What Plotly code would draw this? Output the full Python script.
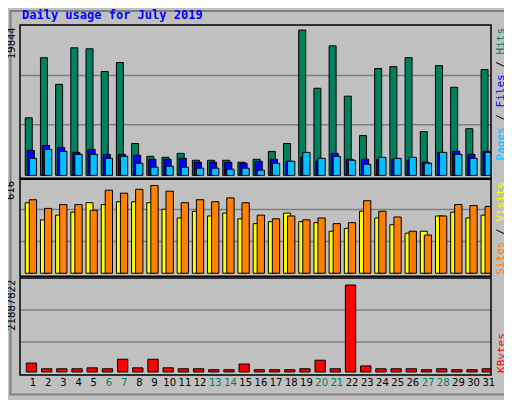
import plotly.graph_objects as go

days = list(range(1, 32))
hits = [7858, 16074, 12437, 17421, 17287, 14188, 15401, 4355, 2604, 2470, 3008, 2065, 2065, 2065, 1796, 2200,
        3278, 4355, 19844, 11899, 17691, 10821, 5433, 14593, 14862, 16074, 5972, 14997, 12033, 6376, 14458]
files = [3412, 4086, 3817, 3143, 3547, 2874, 2874, 2739, 2200, 2200, 2335, 1796, 1796, 1796, 1661, 1931,
         2200, 1931, 2470, 1931, 3008, 2200, 2200, 2200, 2200, 2065, 1796, 3143, 3278, 2874, 3278]
pages = [2335, 3547, 3278, 2874, 2874, 2335, 2604, 1661, 1123, 1257, 1123, 988, 988, 853, 988, 718,
         1661, 1931, 3143, 2335, 2604, 2065, 1527, 2470, 2335, 2470, 1661, 3143, 2874, 2335, 3143]
sites = [495, 375, 408, 429, 495, 482, 502, 502, 495, 449, 388, 435, 402, 422, 382, 348,
         362, 422, 362, 355, 295, 315, 435, 388, 341, 281, 295, 402, 429, 388, 408]
visits = [516, 455, 482, 482, 442, 583, 562, 589, 616, 576, 495, 516, 502, 529, 495, 408,
          382, 402, 375, 388, 348, 355, 509, 435, 395, 295, 268, 402, 482, 475, 469]
kbytes = [2236724, 798830, 798830, 798830, 1038479, 798830, 3195320, 1038479, 3195320, 1038479, 798830,
          798830, 559181, 559181, 1997075, 559181, 559181, 559181, 798830, 2955671, 798830, 21887822,
          1517777, 798830, 798830, 798830, 559181, 798830, 559181, 559181, 798830]
weekend = [6, 7, 13, 14, 20, 21, 27, 28]

BG = "#C0C0C0"
MONO = "DejaVu Sans Mono"
line = dict(color="black", width=1)

fig = go.Figure()
# top panel: hits / files / pages
fig.add_trace(go.Bar(x=days, y=hits, width=0.46, offset=-0.51, marker=dict(color="#00805C", line=line), xaxis="x", yaxis="y"))
fig.add_trace(go.Bar(x=days, y=files, width=0.47, offset=-0.38, marker=dict(color="#0000FF", line=line), xaxis="x", yaxis="y"))
fig.add_trace(go.Bar(x=days, y=pages, width=0.48, offset=-0.245, marker=dict(color="#00C0FF", line=line), xaxis="x", yaxis="y"))
# middle panel: sites / visits
fig.add_trace(go.Bar(x=days, y=sites, width=0.46, offset=-0.51, marker=dict(color="#FFFF00", line=line), xaxis="x2", yaxis="y2"))
fig.add_trace(go.Bar(x=days, y=visits, width=0.48, offset=-0.245, marker=dict(color="#FF8000", line=line), xaxis="x2", yaxis="y2"))
# bottom panel: kbytes
fig.add_trace(go.Bar(x=days, y=kbytes, width=0.68, offset=-0.44, marker=dict(color="#FF0000", line=line), xaxis="x3", yaxis="y3"))

xr = [0.145, 31.145]
ticktext = [f"<span style='color:#00805C'>{d}</span>" if d in weekend else str(d) for d in days]
ax = dict(range=xr, showgrid=False, zeroline=False, fixedrange=True)
# page body has an 8px margin, so the figure is 8px smaller and margins shifted
fig.update_layout(
    width=504, height=392, barmode="overlay", showlegend=False,
    paper_bgcolor=BG, plot_bgcolor=BG,
    margin=dict(l=12, r=21, t=17, b=21, pad=0),
    font=dict(family="DejaVu Sans", size=11, color="black"),
    xaxis=dict(ax, domain=[0, 1], anchor="y", showticklabels=False),
    xaxis2=dict(ax, domain=[0, 1], anchor="y2", showticklabels=False),
    xaxis3=dict(ax, domain=[0, 1], anchor="y3", tickmode="array", tickvals=days, ticktext=ticktext,
                ticks="", tickangle=0, tickfont=dict(size=10)),
    yaxis=dict(domain=[0.562, 1], range=[-19844 * 0.02, 19844 * 1.035], showgrid=False, zeroline=False, showticklabels=False),
    yaxis2=dict(domain=[0.282, 0.559], range=[-616 * 0.035, 616 * 1.07], showgrid=False, zeroline=False, showticklabels=False),
    yaxis3=dict(domain=[0, 0.277], range=[-21887822 * 0.035, 21887822 * 1.08], showgrid=False, zeroline=False, showticklabels=False),
)

shapes = []
for yr, fr in [("y", (0.35, 0.67)), ("y2", (0.36, 0.69)), ("y3", (0.34, 0.67))]:
    for f in fr:
        shapes.append(dict(type="line", xref="x domain", yref=f"{yr} domain", x0=0, x1=1, y0=f, y1=f,
                           line=dict(color="#808080", width=1.5), layer="below"))
    shapes.append(dict(type="rect", xref="x domain", yref=f"{yr} domain", x0=0, x1=1, y0=0, y1=1,
                       line=dict(color="black", width=1.5)))
shapes.append(dict(type="rect", xref="paper", yref="paper", x0=-0.02, x1=1.04, y0=-0.056, y1=1.04,
                   line=dict(color="#808080", width=2)))
fig.update_layout(shapes=shapes)

ann = [
    dict(text="<b>Daily usage for July 2019</b>", x=0.0, y=1.028, xref="paper", yref="paper", xanchor="left",
         yanchor="middle", showarrow=False, font=dict(family=MONO, size=12, color="#0000FF")),
    dict(text="19844", x=-0.003, y=1.0, xref="paper", yref="paper", xanchor="right", yanchor="top",
         textangle=-90, showarrow=False, font=dict(size=10)),
    dict(text="616", x=-0.003, y=0.559, xref="paper", yref="paper", xanchor="right", yanchor="top",
         textangle=-90, showarrow=False, font=dict(size=10)),
    dict(text="21887822", x=-0.003, y=0.277, xref="paper", yref="paper", xanchor="right", yanchor="top",
         textangle=-90, showarrow=False, font=dict(size=10)),
    dict(text="<span style='color:#00C0FF'>Pages</span> / <span style='color:#0000FF'>Files</span> / "
              "<span style='color:#00805C'>Hits</span>",
         x=1.003, y=1.0, xref="paper", yref="paper", xanchor="left", yanchor="top",
         textangle=-90, showarrow=False, font=dict(family=MONO, size=11, color="black")),
    dict(text="<span style='color:#FF8000'>Sites</span> / <span style='color:#FFFF00'>Visits</span>",
         x=1.003, y=0.559, xref="paper", yref="paper", xanchor="left", yanchor="top",
         textangle=-90, showarrow=False, font=dict(family=MONO, size=11, color="black")),
    dict(text="<span style='color:#FF0000'>KBytes</span>",
         x=1.003, y=0.0, xref="paper", yref="paper", xanchor="left", yanchor="bottom",
         textangle=-90, showarrow=False, font=dict(family=MONO, size=11)),
]
fig.update_layout(annotations=ann)

fig.write_html("out.html")
